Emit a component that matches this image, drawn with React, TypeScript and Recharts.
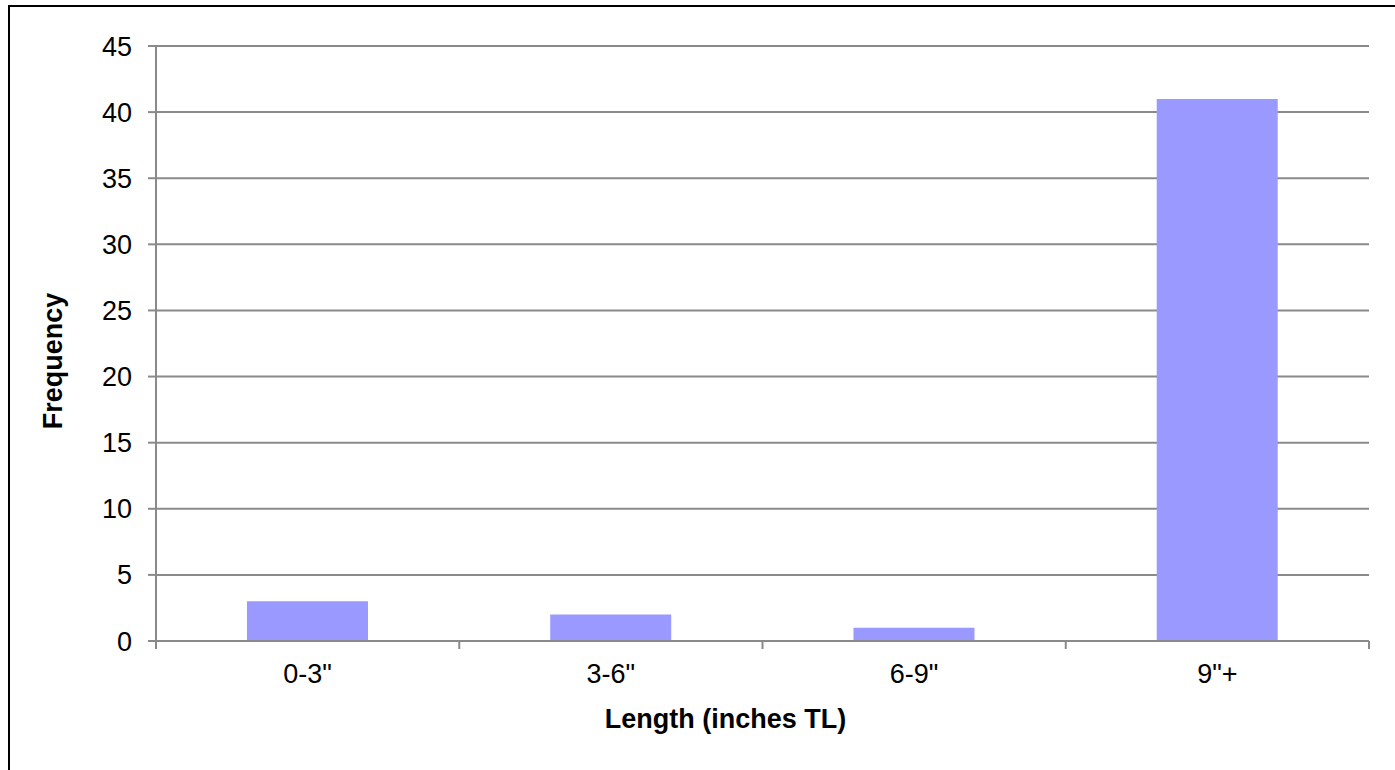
import React from 'react';
import { BarChart, Bar, XAxis, YAxis, CartesianGrid, Label } from 'recharts';

const categories = ['0-3"', '3-6"', '6-9"', '9"+'];
const frequency = [3, 2, 1, 41];
const yTicks = [0, 5, 10, 15, 20, 25, 30, 35, 40, 45];
const xTitle = 'Length (inches TL)';
const yTitle = 'Frequency';

const data = categories.map((c, i) => ({ range: c, frequency: frequency[i] }));

const W = 1395;
const H = 770;
const MARGIN = { top: 46, right: 26, bottom: 69, left: 56 };
const Y_AXIS_W = 100;
const X_AXIS_H = 60;
const PLOT_LEFT = MARGIN.left + Y_AXIS_W;
const PLOT_W = W - PLOT_LEFT - MARGIN.right;
const PLOT_H = H - MARGIN.top - MARGIN.bottom - X_AXIS_H;
const AXIS_Y = MARGIN.top + PLOT_H;
const HALF_BAND = PLOT_W / categories.length / 2;

const FONT = '"Liberation Sans", Arial, sans-serif';
const GRID = '#8a8a8a';

const XTick = (props: any) => {
  const { x, payload, index } = props;
  const last = index === categories.length - 1;
  return (
    <g>
      <line x1={x - HALF_BAND} x2={x - HALF_BAND} y1={AXIS_Y} y2={AXIS_Y + 8} stroke={GRID} strokeWidth={2} />
      {last && (
        <line x1={x + HALF_BAND} x2={x + HALF_BAND} y1={AXIS_Y} y2={AXIS_Y + 8} stroke={GRID} strokeWidth={2} />
      )}
      <text x={x} y={AXIS_Y + 23} dy="0.71em" textAnchor="middle" fill="#000" fontSize={27} fontFamily={FONT}>
        {payload.value}
      </text>
    </g>
  );
};

export default function App() {
  return (
    <div style={{ position: 'fixed', left: 0, top: 0, width: W, height: H, overflow: 'hidden', background: '#fff' }}>
      <div
        style={{
          position: 'absolute',
          left: 8,
          top: 5,
          width: W + 20,
          height: H + 20,
          borderLeft: '2px solid #000',
          borderTop: '2px solid #000',
        }}
      />
      <div style={{ position: 'absolute', left: 0, top: 0 }}>
        <BarChart width={W} height={H} data={data} margin={MARGIN} barCategoryGap="30%">
          <CartesianGrid vertical={false} stroke={GRID} strokeWidth={2} />
          <XAxis
            dataKey="range"
            height={X_AXIS_H}
            axisLine={{ stroke: GRID, strokeWidth: 2 }}
            tickLine={false}
            tick={<XTick />}
            interval={0}
          >
            <Label
              content={() => (
                <text
                  x={PLOT_LEFT + PLOT_W / 2 - 37}
                  y={728}
                  textAnchor="middle"
                  fill="#000"
                  fontSize={27}
                  fontWeight="bold"
                  fontFamily={FONT}
                >
                  {xTitle}
                </text>
              )}
            />
          </XAxis>
          <YAxis
            width={Y_AXIS_W}
            domain={[0, 45]}
            ticks={yTicks}
            interval={0}
            axisLine={{ stroke: GRID, strokeWidth: 2 }}
            tickLine={{ stroke: GRID, strokeWidth: 2 }}
            tickSize={8}
            tickMargin={16}
            tick={{ fill: '#000', fontSize: 27, fontFamily: FONT }}
          >
            <Label
              content={() => (
                <text
                  x={53}
                  y={361}
                  transform="rotate(-90, 53, 361)"
                  textAnchor="middle"
                  dominantBaseline="central"
                  fill="#000"
                  fontSize={27}
                  fontWeight="bold"
                  fontFamily={FONT}
                >
                  {yTitle}
                </text>
              )}
            />
          </YAxis>
          <Bar dataKey="frequency" fill="#9999ff" isAnimationActive={false} />
        </BarChart>
      </div>
    </div>
  );
}
